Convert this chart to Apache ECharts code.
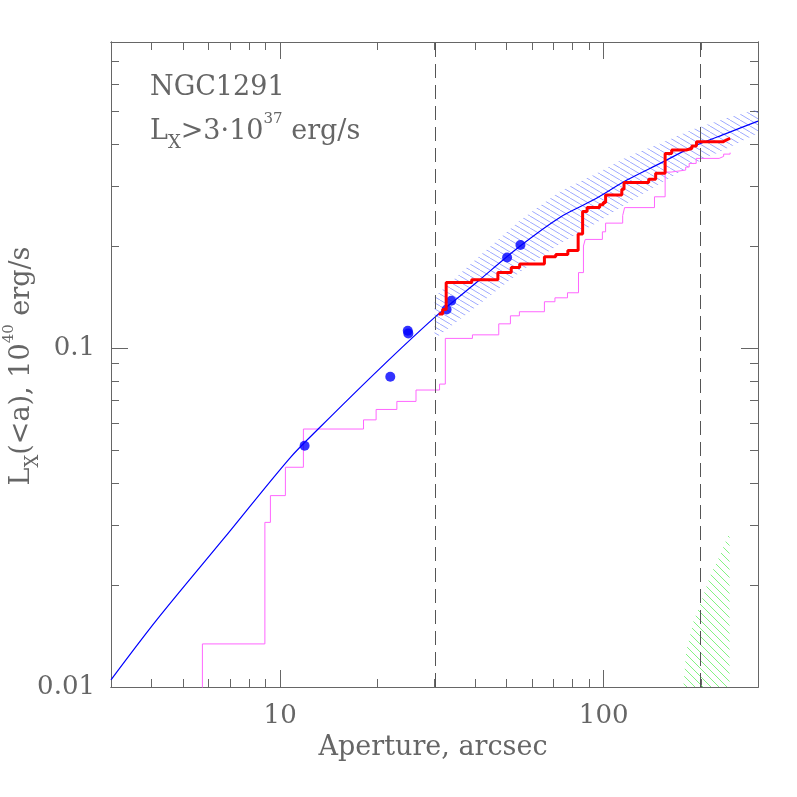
<!DOCTYPE html>
<html>
<head>
<meta charset="utf-8">
<script src="https://cdn.jsdelivr.net/npm/echarts@6/dist/echarts.min.js"></script>
<style>
  html, body { margin: 0; padding: 0; background: #fff; }
  #main { width: 797px; height: 797px; }
</style>
</head>
<body>
<div id="main"></div>
<script>
// aperture in arcsec, luminosity in 1e40 erg/s
var modelX = [3.0, 4.16, 6.67, 10.7, 13.3, 20.4, 30.1, 40.6, 55.2, 73.4, 92.8, 118, 150, 189, 241, 300];
var modelY = [0.0105, 0.0158, 0.0273, 0.0473, 0.0585, 0.0873, 0.1234, 0.1566, 0.200, 0.2434, 0.2733, 0.3131, 0.3513, 0.3929, 0.4307, 0.4673];

var bandX = [30, 40.6, 55.2, 73.4, 92.8, 118, 150, 189, 241, 300];
var bandHigh = [0.1414, 0.1842, 0.2385, 0.2904, 0.3238, 0.3660, 0.4024, 0.4426, 0.4771, 0.5070];
var bandLow = [0.1063, 0.1330, 0.1676, 0.2040, 0.2306, 0.2677, 0.3067, 0.3489, 0.3890, 0.4307];

var greenX = [176.5, 179.9, 189.5, 201.2, 213.4, 229.2, 245];
var greenHigh = [0.0101, 0.0127, 0.0156, 0.0181, 0.0213, 0.0245, 0.0287];
var greenLow = [0.01, 0.01, 0.01, 0.01, 0.01, 0.01, 0.01];

var dotX = [11.9, 21.9, 24.8, 24.9, 32.7, 33.8, 50.3, 55.3];
var dotY = [0.0515, 0.0823, 0.1125, 0.1105, 0.130, 0.1379, 0.185, 0.2014];

// red: jump positions and the level after each jump
var redX = [30.9, 31.8, 32.6, 39.1, 47.1, 51.8, 55.0, 65.6, 71.1, 77.5, 83.4, 86.1, 88.9, 97.2, 99.7, 101.4, 113.8, 115.6, 137.8, 144.8, 154.9, 162.3, 179.9, 187.3, 193.6, 233.7, 239.2, 246.0];
var redY = [0.126, 0.130, 0.156, 0.159, 0.167, 0.173, 0.177, 0.186, 0.189, 0.194, 0.217, 0.253, 0.260, 0.265, 0.269, 0.283, 0.294, 0.308, 0.315, 0.328, 0.375, 0.384, 0.388, 0.395, 0.406, 0.411, 0.416, 0.416];

var magX = [5.75, 8.97, 9.33, 10.38, 11.8, 18.1, 19.8, 22.95, 26.3, 31.1, 32.4, 39.3, 47.4, 51.5, 54.9, 65.6, 70.7, 77.3, 83.6, 86.6, 87.7, 99.1, 101.4, 114.5, 116.1, 143.6, 154.9, 161.7, 179.3, 183.8, 193.2, 227.5, 234.9, 246];
var magY = [0.0134, 0.0306, 0.0367, 0.0445, 0.0577, 0.0614, 0.0659, 0.0696, 0.0752, 0.0783, 0.1068, 0.1094, 0.1179, 0.1245, 0.128, 0.137, 0.1407, 0.1456, 0.167, 0.200, 0.2092, 0.2203, 0.2337, 0.246, 0.2597, 0.2795, 0.3306, 0.3351, 0.342, 0.3506, 0.3628, 0.3677, 0.3735, 0.3773];

var dashedX = [30, 200];

var xRange = [3, 300];
var yRange = [0.01, 0.8];
var xMajor = [10, 100];
var xMinor = [3, 4, 5, 6, 7, 8, 9, 20, 30, 40, 50, 60, 70, 80, 90, 200, 300];
var yMajor = [0.01, 0.1];
var yMinor = [0.02, 0.03, 0.04, 0.05, 0.06, 0.07, 0.08, 0.09, 0.2, 0.3, 0.4, 0.5, 0.6, 0.7, 0.8];

var lg = Math.log10;
var FONT = '"DejaVu Serif", "Liberation Serif", serif';
var GREY = '#666';

function pairs(xs, ys) {
  return xs.map(function (x, i) { return [lg(x), lg(ys[i])]; });
}

function hatch(color, w, h) {
  var c = document.createElement('canvas');
  c.width = w; c.height = h;
  var g = c.getContext('2d');
  g.strokeStyle = color;
  g.lineWidth = 1;
  g.beginPath();
  g.moveTo(-w, -h); g.lineTo(2 * w, 2 * h);
  g.stroke();
  return { image: c, repeat: 'repeat' };
}

function bandSeries(xs, lo, hi, fill) {
  return {
    type: 'custom',
    data: [[lg(xs[0]), lg(lo[0])]],
    clip: true,
    z: 1,
    renderItem: function (params, api) {
      var pts = [];
      for (var i = 0; i < xs.length; i++) pts.push(api.coord([lg(xs[i]), lg(hi[i])]));
      for (var j = xs.length - 1; j >= 0; j--) pts.push(api.coord([lg(xs[j]), lg(lo[j])]));
      return { type: 'polygon', shape: { points: pts }, style: { fill: fill } };
    }
  };
}

function fmt(v) {
  return String(parseFloat(Math.pow(10, v).toPrecision(3)));
}

function axis(pos, range, vals, len, labels) {
  var a = {
    type: 'value',
    position: pos,
    min: lg(range[0]),
    max: lg(range[1]),
    axisLine: { show: true, onZero: false, lineStyle: { color: GREY, width: 1 } },
    axisTick: { show: true, inside: true, length: len, customValues: vals.map(lg), lineStyle: { color: GREY, width: 1 } },
    axisLabel: { show: false },
    splitLine: { show: false }
  };
  if (labels) {
    a.axisLabel = {
      show: true, customValues: vals.map(lg), formatter: fmt,
      fontFamily: FONT, fontSize: 26, color: GREY, margin: 16
    };
  }
  return a;
}

var redData = pairs(redX, redY);
var magData = [[lg(magX[0]), lg(0.005)]].concat(pairs(magX, magY));

var richStyle = {
  n: { fontFamily: FONT, fontSize: 27, lineHeight: 40, fill: GREY },
  sub: { fontFamily: FONT, fontSize: 18, lineHeight: 22, verticalAlign: 'bottom', fill: GREY },
  sup: { fontFamily: FONT, fontSize: 15, lineHeight: 22, verticalAlign: 'top', fill: GREY }
};

var option = {
  animation: false,
  backgroundColor: '#fff',
  grid: { left: 111, right: 39, top: 42, bottom: 110, outerBoundsMode: 'none' },
  xAxis: [
    axis('bottom', xRange, xMajor, 17, true),
    axis('bottom', xRange, xMinor, 8, false),
    axis('top', xRange, xMajor, 17, false),
    axis('top', xRange, xMinor, 8, false)
  ],
  yAxis: [
    axis('left', yRange, yMajor, 17, true),
    axis('left', yRange, yMinor, 8, false),
    axis('right', yRange, yMajor, 17, false),
    axis('right', yRange, yMinor, 8, false)
  ],
  graphic: [
    {
      type: 'text', x: 150, y: 88,
      style: { text: 'NGC1291', fontFamily: FONT, fontSize: 27, fill: GREY, verticalAlign: 'middle' }
    },
    {
      type: 'text', x: 150, y: 132,
      style: {
        text: '{n|L}{sub|X}{n|>3·10}{sup|37}{n| erg/s}',
        verticalAlign: 'middle', fill: GREY, rich: richStyle
      }
    },
    {
      type: 'text', x: 433, y: 748,
      style: { text: 'Aperture, arcsec', fontFamily: FONT, fontSize: 27, fill: GREY, align: 'center', verticalAlign: 'middle' }
    },
    {
      type: 'text', x: 22, y: 366, rotation: Math.PI / 2,
      style: {
        text: '{n|L}{sub|X}{n|(<a), 10}{sup|40}{n| erg/s}',
        align: 'center', verticalAlign: 'middle', fill: GREY, rich: richStyle
      }
    }
  ],
  series: [
    bandSeries(bandX, bandLow, bandHigh, hatch('rgba(80,100,255,0.55)', 10, 6)),
    bandSeries(greenX, greenLow, greenHigh, hatch('rgba(100,240,100,0.8)', 8, 8)),
    {
      type: 'line', data: magData, step: 'end', showSymbol: false, z: 2,
      lineStyle: { color: '#ff66ff', width: 1 }
    },
    {
      type: 'line', data: pairs(modelX, modelY), smooth: 0.3, showSymbol: false, z: 3,
      lineStyle: { color: '#0000ff', width: 1.2 },
      markLine: {
        silent: true, symbol: ['none', 'none'], label: { show: false },
        lineStyle: { color: '#555', width: 1, type: [14, 7] },
        data: dashedX.map(function (v) { return { xAxis: lg(v) }; })
      }
    },
    {
      type: 'scatter', data: pairs(dotX, dotY), symbolSize: 10, z: 4,
      itemStyle: { color: '#0000ff' }
    },
    {
      type: 'line', data: redData, step: 'end', showSymbol: false, z: 5,
      lineStyle: { color: '#ff0000', width: 3 }
    }
  ]
};

var chart = echarts.init(document.getElementById('main'));
chart.setOption(option);
</script>
</body>
</html>
